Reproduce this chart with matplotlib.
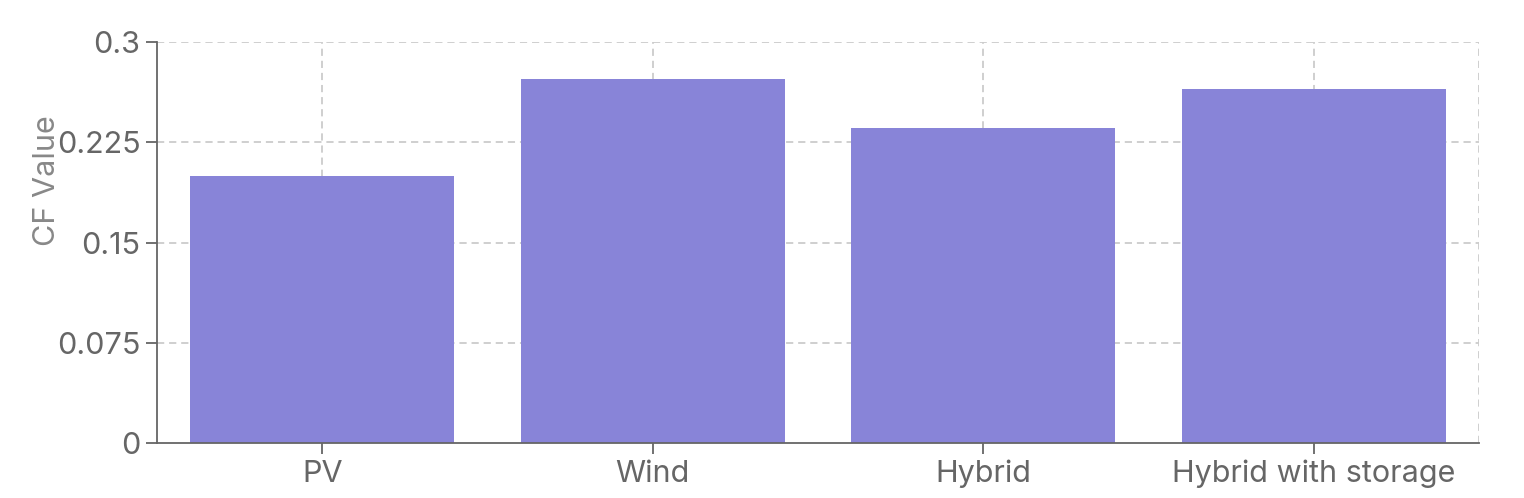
import matplotlib
matplotlib.use('Agg')
import matplotlib.pyplot as plt
import numpy as np

categories = ['PV', 'Wind', 'Hybrid', 'Hybrid with storage']
cf_values = [0.2, 0.272, 0.236, 0.265]
y_ticks = [0, 0.075, 0.15, 0.225, 0.3]
y_tick_labels = ['0', '0.075', '0.15', '0.225', '0.3']

plt.rcParams['font.family'] = ['Inter', 'DejaVu Sans']

W, H = 1524, 498
fig = plt.figure(figsize=(W / 100, H / 100), dpi=100)
ax = fig.add_axes([157 / W, 1 - 443 / H, (1479 - 157) / W, (443 - 42) / H])

x = np.arange(len(categories))
ax.bar(x, cf_values, width=0.8, color='#8884d8', zorder=2)

ax.set_xlim(-0.5, len(categories) - 0.5)
ax.set_ylim(0, 0.3)

# grid: dashed lines at ticks and category centers
dash = (0, (4, 2.7))
for yt in y_ticks[1:]:
    ax.axhline(yt, color='#cccccc', lw=1.3, ls=dash, zorder=1)
for xc in x:
    ax.axvline(xc, color='#cccccc', lw=1.3, ls=dash, zorder=1)
ax.axvline(len(categories) - 0.5, color='#cccccc', lw=1.3, ls=dash, zorder=1)

for s in ['top', 'right']:
    ax.spines[s].set_visible(False)
for s in ['left', 'bottom']:
    ax.spines[s].set_color('#666666')
    ax.spines[s].set_linewidth(1.3)
    ax.spines[s].set_zorder(3)

ax.set_xticks(x)
ax.set_xticklabels(categories)
ax.set_yticks(y_ticks)
ax.set_yticklabels(y_tick_labels)
ax.tick_params(axis='both', colors='#666666', labelcolor='#666666',
               labelsize=22, length=8, width=1.3, pad=4)

fig.text(47 / W, 1 - 181 / H, 'CF Value', rotation=90, ha='center', va='center',
         fontsize=22, color='#888888')

fig.savefig('out.png', dpi=100)
